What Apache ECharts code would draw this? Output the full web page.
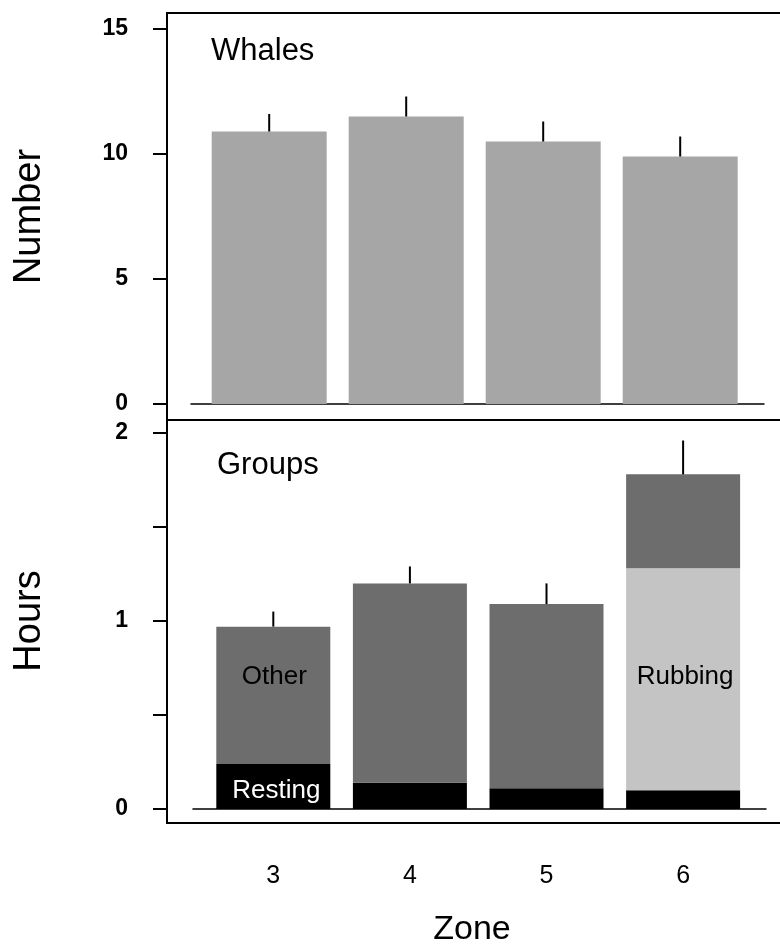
<!DOCTYPE html>
<html>
<head>
<meta charset="utf-8">
<script src="https://cdn.jsdelivr.net/npm/echarts@6/dist/echarts.min.js"></script>
<style>
html,body{margin:0;padding:0;background:#fff;}
#chart{width:780px;height:950px;}
</style>
</head>
<body>
<div id="chart"></div>
<script>
// ---- data ----
const zones = [3, 4, 5, 6];
const whales = [10.9, 11.5, 10.5, 9.9];
const whalesUpper = [11.6, 12.3, 11.3, 10.7];
const resting = [0.24, 0.14, 0.11, 0.10];
const rubbing = [0, 0, 0, 1.18];
const other = [0.73, 1.06, 0.98, 0.50];
const groupsUpper = [1.05, 1.29, 1.20, 1.96];
const hoursTickLabels = [0, 1, 2];
const numberTickLabels = [0, 5, 10, 15];

const FONT = '"Liberation Sans", Arial, Helvetica, sans-serif';
const groupTotals = zones.map((z, i) => resting[i] + rubbing[i] + other[i]);

function errRender(params, api) {
  const p0 = api.coord([api.value(0), api.value(1)]);
  const p1 = api.coord([api.value(0), api.value(2)]);
  return {
    type: 'line',
    shape: { x1: p0[0], y1: p0[1], x2: p1[0], y2: p1[1] },
    style: { stroke: '#000', lineWidth: 2 }
  };
}

// stacked segment: data as [value, zone] so that the value dimension is the stacked one
function seg(values, labelIdx, labelOpt) {
  return zones.map((z, i) => i === labelIdx ? { value: [values[i], z], label: labelOpt } : [values[i], z]);
}

const chart = echarts.init(document.getElementById('chart'), null, { renderer: 'canvas' });

const yTickStyle = { show: true, inside: false, length: 14, lineStyle: { color: '#000', width: 2 } };
const tickLabelBase = { margin: 39, fontSize: 23, fontWeight: 'bold', color: '#000', fontFamily: FONT };

const option = {
  animation: false,
  backgroundColor: '#fff',
  textStyle: { fontFamily: FONT },
  title: [
    { text: 'Whales', left: 206, top: 31, textStyle: { fontFamily: FONT, fontSize: 31, fontWeight: 'normal', color: '#000' } },
    { text: 'Groups', left: 212, top: 445, textStyle: { fontFamily: FONT, fontSize: 31, fontWeight: 'normal', color: '#000' } }
  ],
  grid: [
    { left: 167, top: 13, right: -10, height: 407, show: true, borderColor: '#000', borderWidth: 2, backgroundColor: 'transparent', outerBoundsMode: 'none' },
    { left: 167, top: 420, right: -10, height: 403, show: true, borderColor: '#000', borderWidth: 2, backgroundColor: 'transparent', outerBoundsMode: 'none' },
    { left: 191, right: 16, top: 29, height: 375, outerBoundsMode: 'none' },
    { left: 193, right: 14, top: 433, height: 376, outerBoundsMode: 'none' }
  ],
  xAxis: [
    {
      gridIndex: 2, type: 'value', min: 2.4292, max: 6.6117,
      axisLine: { show: true, onZero: false, lineStyle: { color: '#000', width: 1.5 } },
      axisTick: { show: false }, axisLabel: { show: false }, splitLine: { show: false }
    },
    {
      gridIndex: 3, type: 'value', min: 2.4121, max: 6.6068,
      axisLine: { show: true, onZero: false, lineStyle: { color: '#000', width: 1.5 } },
      axisTick: { show: false }, splitLine: { show: false },
      axisLabel: { show: true, customValues: zones, margin: 55, fontSize: 25, color: '#000', fontFamily: FONT },
      name: 'Zone', nameLocation: 'middle', nameGap: 104,
      nameTextStyle: { fontSize: 34, color: '#000', fontFamily: FONT, padding: [0, 15, 0, 0] }
    }
  ],
  yAxis: [
    {
      gridIndex: 2, type: 'value', min: 0, max: 15, interval: 5, offset: 24,
      axisLine: { show: false }, axisTick: yTickStyle, splitLine: { show: false },
      axisLabel: Object.assign({}, tickLabelBase, {
        formatter: v => (numberTickLabels.indexOf(v) >= 0 ? String(v) : '')
      }),
      name: 'Number', nameLocation: 'middle', nameRotate: 90, nameGap: 118,
      nameTextStyle: { fontSize: 38, color: '#000', fontFamily: FONT }
    },
    {
      gridIndex: 3, type: 'value', min: 0, max: 2, interval: 0.5, offset: 26,
      axisLine: { show: false }, axisTick: yTickStyle, splitLine: { show: false },
      axisLabel: Object.assign({}, tickLabelBase, {
        formatter: v => (hoursTickLabels.indexOf(v) >= 0 ? String(v) : '')
      }),
      name: 'Hours', nameLocation: 'middle', nameRotate: 90, nameGap: 118,
      nameTextStyle: { fontSize: 38, color: '#000', fontFamily: FONT }
    }
  ],
  series: [
    {
      name: 'Whales', type: 'bar', xAxisIndex: 0, yAxisIndex: 0, barWidth: 115,
      itemStyle: { color: '#a6a6a6' },
      data: zones.map((z, i) => [z, whales[i]])
    },
    {
      name: 'WhalesErr', type: 'custom', xAxisIndex: 0, yAxisIndex: 0,
      renderItem: errRender, z: 5,
      data: zones.map((z, i) => [z, whales[i], whalesUpper[i]])
    },
    {
      name: 'Resting', type: 'bar', stack: 'g', xAxisIndex: 1, yAxisIndex: 1, barWidth: 114,
      encode: { x: 1, y: 0 },
      itemStyle: { color: '#000' },
      data: seg(resting, 0, { show: true, position: 'inside', formatter: 'Resting', color: '#fff', fontSize: 26, fontFamily: FONT, offset: [3, 4], textBorderWidth: 0 })
    },
    {
      name: 'Rubbing', type: 'bar', stack: 'g', xAxisIndex: 1, yAxisIndex: 1, barWidth: 114,
      encode: { x: 1, y: 0 },
      itemStyle: { color: '#c4c4c4' },
      data: seg(rubbing, 3, { show: true, position: 'inside', formatter: 'Rubbing', color: '#000', fontSize: 26, fontFamily: FONT, offset: [2, -2], textBorderWidth: 0 })
    },
    {
      name: 'Other', type: 'bar', stack: 'g', xAxisIndex: 1, yAxisIndex: 1, barWidth: 114,
      encode: { x: 1, y: 0 },
      itemStyle: { color: '#6d6d6d' },
      data: seg(other, 0, { show: true, position: 'inside', formatter: 'Other', color: '#000', fontSize: 26, fontFamily: FONT, offset: [1, -18], textBorderWidth: 0 })
    },
    {
      name: 'GroupsErr', type: 'custom', xAxisIndex: 1, yAxisIndex: 1,
      renderItem: errRender, z: 5,
      data: zones.map((z, i) => [z, groupTotals[i], groupsUpper[i]])
    }
  ]
};
chart.setOption(option);
</script>
</body>
</html>
